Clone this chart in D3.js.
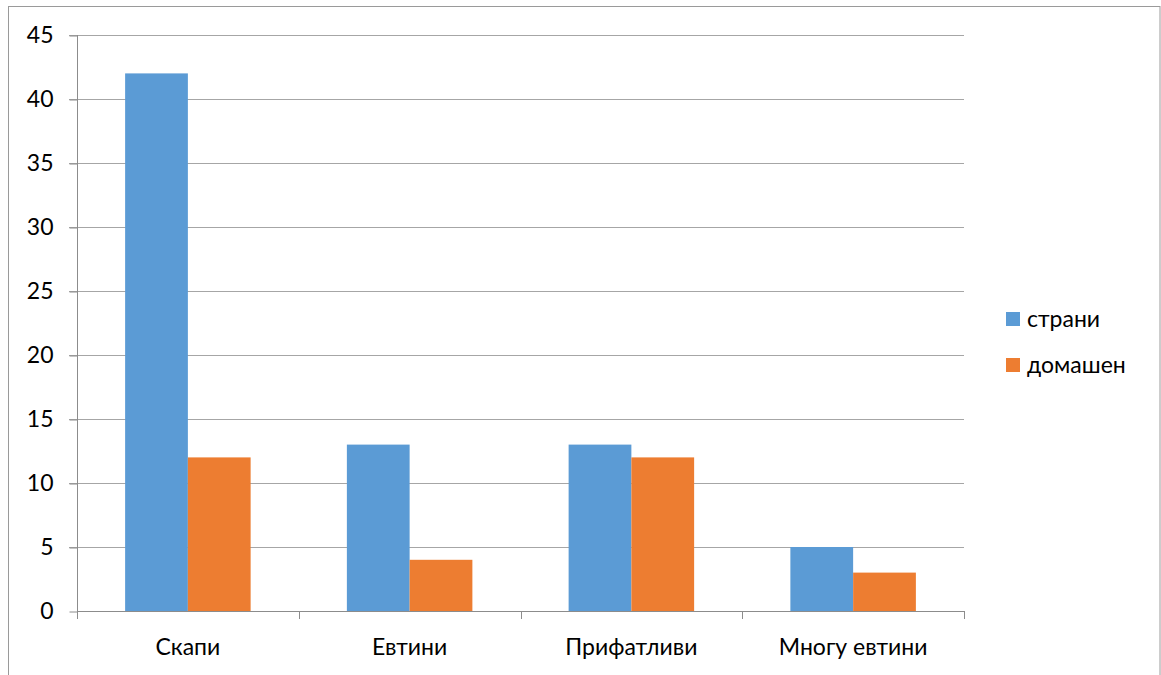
<!DOCTYPE html>
<html>
<head>
<meta charset="utf-8">
<script src="https://cdn.jsdelivr.net/npm/d3@7"></script>
<style>
  html, body { margin: 0; padding: 0; background: #fff; }
  svg { display: block; font-family: Lato, "Open Sans", sans-serif; }
</style>
</head>
<body>
<svg id="chart" width="1161" height="675"></svg>
<script>
// Chart data
const categories = ["Скапи", "Евтини", "Прифатливи", "Многу евтини"];
const seriesNames = ["страни", "домашен"];
const strani = [42, 13, 13, 5];
const domashen = [12, 4, 12, 3];
const yTicks = [0, 5, 10, 15, 20, 25, 30, 35, 40, 45];
const colors = ["#5B9BD5", "#ED7D31"];

const svg = d3.select("#chart");
const FS = 23;

// Outer frame
svg.append("rect")
  .attr("x", 8.5).attr("y", 6.5)
  .attr("width", 1151.5).attr("height", 700)
  .attr("fill", "none").attr("stroke", "#9a9a9a").attr("stroke-width", 1);

const plot = { left: 77, right: 964, top: 35, bottom: 611 };

const x = d3.scaleBand()
  .domain(categories)
  .range([plot.left, plot.right])
  .paddingInner(0.434)
  .paddingOuter(0.217);

const x1 = d3.scaleBand()
  .domain(seriesNames)
  .range([0, x.bandwidth()]);

const y = d3.scaleLinear()
  .domain([0, 45])
  .range([plot.bottom, plot.top]);

// Gridlines
svg.append("g")
  .selectAll("line")
  .data(yTicks.filter(d => d > 0))
  .join("line")
  .attr("x1", plot.left - 8).attr("x2", plot.right)
  .attr("y1", d => Math.round(y(d)) + 0.5).attr("y2", d => Math.round(y(d)) + 0.5)
  .attr("stroke", "#a6a6a6").attr("stroke-width", 1);

// Y axis
const yAxis = svg.append("g")
  .attr("transform", `translate(${plot.left + 0.5},0)`)
  .call(d3.axisLeft(y).tickValues(yTicks).tickSize(8).tickPadding(16));
yAxis.select(".domain").attr("stroke", "#8c8c8c").attr("d", `M0,${plot.top}V${plot.bottom}`);
yAxis.selectAll(".tick line").attr("stroke", "#8c8c8c")
  .attr("transform", "translate(0,0.5)");
yAxis.selectAll(".tick text")
  .attr("font-size", FS).attr("fill", "#000")
  .attr("font-family", "Lato, 'Open Sans', sans-serif");

// Bars
const data = categories.map((c, i) => ({ cat: c, values: [strani[i], domashen[i]] }));
const groups = svg.append("g")
  .selectAll("g")
  .data(data)
  .join("g")
  .attr("transform", d => `translate(${x(d.cat)},0)`);

groups.selectAll("rect")
  .data(d => d.values.map((v, j) => ({ name: seriesNames[j], v, j })))
  .join("rect")
  .attr("x", d => x1(d.name))
  .attr("width", x1.bandwidth())
  .attr("y", d => y(d.v))
  .attr("height", d => y(0) - y(d.v))
  .attr("fill", d => colors[d.j]);

// X axis
const boundaries = d3.range(categories.length + 1).map(i => plot.left + i * (plot.right - plot.left) / categories.length);
svg.append("line")
  .attr("x1", plot.left).attr("x2", plot.right)
  .attr("y1", plot.bottom + 0.5).attr("y2", plot.bottom + 0.5)
  .attr("stroke", "#8c8c8c");
svg.append("g")
  .selectAll("line")
  .data(boundaries)
  .join("line")
  .attr("x1", d => Math.round(d) + 0.5).attr("x2", d => Math.round(d) + 0.5)
  .attr("y1", plot.bottom).attr("y2", plot.bottom + 8)
  .attr("stroke", "#8c8c8c");
svg.append("g")
  .selectAll("text")
  .data(categories)
  .join("text")
  .attr("x", d => x(d) + x.bandwidth() / 2)
  .attr("y", 655)
  .attr("text-anchor", "middle")
  .attr("font-size", FS)
  .attr("fill", "#000")
  .text(d => d);

// Legend
const legend = svg.append("g")
  .selectAll("g")
  .data(seriesNames)
  .join("g")
  .attr("transform", (d, i) => `translate(1006,${312 + i * 46})`);
legend.append("rect")
  .attr("width", 14).attr("height", 14)
  .attr("fill", (d, i) => colors[i]);
legend.append("text")
  .attr("x", 21).attr("y", 7)
  .attr("dy", "0.35em")
  .attr("font-size", FS)
  .attr("fill", "#000")
  .text(d => d);
</script>
</body>
</html>
